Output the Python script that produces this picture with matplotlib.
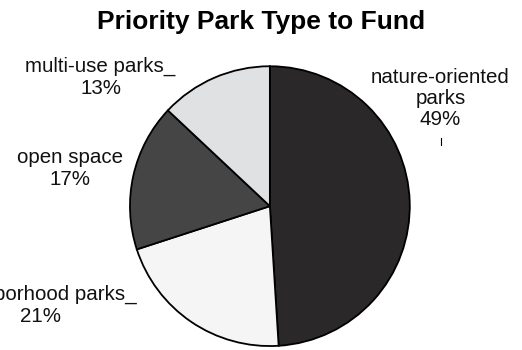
import matplotlib.pyplot as plt

plt.rcParams['font.family'] = ['Liberation Sans', 'DejaVu Sans']

# survey shares, clockwise from 12 o'clock
park_types = ["nature-oriented\nparks", "neighborhood parks_", "open space", "multi-use parks_"]
shares = [49, 21, 17, 13]
colors = ["#2b2829", "#f5f5f5", "#454545", "#e0e1e3"]

# label block centres (data units, pie radius = 1)
label_pos = [(1.22, 0.77), (-1.64, -0.71), (-1.43, 0.27), (-1.21, 0.92)]

fig = plt.figure(figsize=(5.22, 3.5), dpi=100)
ax = fig.add_axes([0.249, 0.011, 0.536, 0.8])

wedges, _ = ax.pie(shares, colors=colors, startangle=90, counterclock=False,
                   radius=1, wedgeprops=dict(edgecolor="black", linewidth=1.3))
ax.set_xlim(-1, 1)
ax.set_ylim(-1, 1)
ax.set_aspect("equal")

for name, val, (x, y) in zip(park_types, shares, label_pos):
    ax.text(x, y, f"{name}\n{val}%", ha="center", va="center", fontsize=14.8,
            color="#111111", linespacing=1.15, multialignment="center", clip_on=False)

# short leader tick under the largest slice label
ax.plot([1.221, 1.221], [0.49, 0.44], color="black", lw=0.8, clip_on=False)

fig.suptitle("Priority Park Type to Fund", fontsize=19, fontweight="bold", y=0.97)

fig.savefig("out.png", dpi=100)
